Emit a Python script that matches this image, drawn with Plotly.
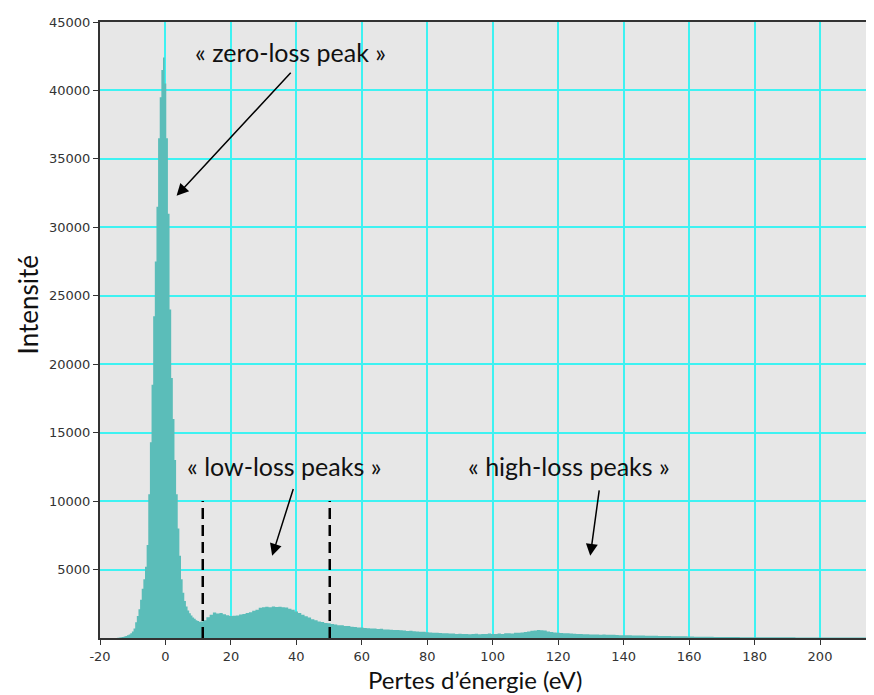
import plotly.graph_objects as go

# ---- data: energy loss (eV) and intensity (counts) ----
energy_peak = [-15.0, -14.5, -14.0, -13.5, -13.0, -12.5, -12.0, -11.5, -11.0, -10.5,
               -10.0, -9.5, -9.0, -8.5, -8.0, -7.5, -7.0, -6.5, -6.0, -5.5,
               -5.0, -4.5, -4.0, -3.5, -3.0, -2.5, -2.0, -1.5, -1.0, -0.5,
               0.0, 0.5, 1.0, 1.5, 2.0, 2.5, 3.0, 3.5, 4.0, 4.5,
               5.0, 5.5, 6.0, 6.5, 7.0, 7.5, 8.0, 8.5, 9.0, 9.5,
               10.0, 10.5, 11.0]
intensity_peak = [0, 10, 30, 50, 80, 110, 150, 200, 260, 350,
                  480, 700, 1150, 1600, 2100, 2800, 3600, 4300, 5200, 6800,
                  10500, 14300, 18500, 23500, 27500, 31500, 36500, 39500, 41500, 42400,
                  40500, 36500, 31000, 24000, 19000, 16000, 13000, 10500, 8000, 6000,
                  4300, 3300, 2700, 2300, 2000, 1800, 1650, 1500, 1400, 1300,
                  1250, 1190, 1210]

energy_tail = list(range(12, 218))
intensity_tail = [
    # 12-21
    1300, 1520, 1700, 1860, 1790, 1830, 1740, 1660, 1600, 1630,
    # 22-31
    1650, 1710, 1750, 1830, 1890, 1990, 2070, 2210, 2240, 2290,
    # 32-41
    2250, 2310, 2260, 2290, 2240, 2230, 2140, 2060, 1940, 1830,
    # 42-51
    1700, 1590, 1490, 1370, 1290, 1200, 1160, 1090, 1070, 1020,
    # 52-61
    990, 940, 930, 880, 870, 820, 810, 770, 760, 730,
    # 62-71
    720, 690, 700, 660, 670, 630, 620, 600, 590, 580,
    # 72-81
    560, 550, 520, 530, 490, 480, 460, 450, 420, 410,
    # 82-91
    390, 380, 360, 350, 340, 320, 330, 300, 310, 290,
    # 92-101
    300, 280, 290, 310, 280, 290, 300, 320, 290, 300,
    # 102-111
    320, 300, 340, 350, 330, 380, 390, 410, 440, 480,
    # 112-121
    530, 550, 590, 560, 540, 480, 440, 410, 380, 370,
    # 122-131
    350, 340, 330, 310, 300, 290, 280, 270, 260, 260,
    # 132-141
    250, 240, 250, 230, 240, 230, 220, 210, 210, 200,
    # 142-151
    200, 190, 190, 180, 180, 170, 170, 160, 160, 150,
    # 152-161
    150, 140, 140, 130, 130, 120, 120, 120, 110, 110,
    # 162-171
    100, 100, 100, 90, 90, 90, 80, 80, 80, 80,
    # 172-181
    70, 70, 70, 70, 60, 60, 60, 60, 60, 60,
    # 182-191
    60, 50, 50, 50, 50, 50, 50, 50, 50, 50,
    # 192-201
    50, 40, 40, 40, 40, 40, 40, 40, 40, 40,
    # 202-211
    40, 40, 40, 40, 40, 40, 40, 40, 40, 40,
    # 212-217
    40, 40, 40, 40, 40, 40,
]

x_ticks = [-20, 0, 20, 40, 60, 80, 100, 120, 140, 160, 180, 200]
x_ticktext = ["-20", "0", "20", "40", "60", "80", "100", "120", "140", "160", "180", "200"]
y_ticks = [5000, 10000, 15000, 20000, 25000, 30000, 35000, 40000, 45000]
y_ticktext = ["5000", "10000", "15000", "20000", "25000", "30000", "35000", "40000", "45000"]
region_bounds = [11.4, 50.2]
region_height = 10000

labels = ["« zero-loss peak »", "« low-loss peaks »", "« high-loss peaks »"]
label_pos = [(38.2, 42800), (36.3, 12550), (123.4, 12550)]
arrow_tail = [(38.7, 41400), (39.2, 11000), (132.6, 10900)]
arrow_head = [(3.4, 32300), (32.6, 6000), (129.8, 6000)]

energy = energy_peak + energy_tail
intensity = intensity_peak + intensity_tail

fig = go.Figure()
fig.add_trace(go.Scatter(
    x=energy, y=intensity, mode="lines", fill="tozeroy",
    line=dict(color="#5bbdb9", width=0, shape="hvh"),
    fillcolor="#5bbdb9", showlegend=False, hoverinfo="skip"))

for xb in region_bounds:
    fig.add_shape(type="line", xref="x", yref="y", x0=xb, x1=xb, y0=0, y1=region_height,
                  line=dict(color="black", width=2.5, dash="11px,6px"))

for txt, (tx, ty) in zip(labels, label_pos):
    fig.add_annotation(x=tx, y=ty, xref="x", yref="y", text=txt, showarrow=False,
                       font=dict(family="Lato", size=25, color="#111111"))

for (ax_, ay_), (hx, hy) in zip(arrow_tail, arrow_head):
    fig.add_annotation(x=hx, y=hy, ax=ax_, ay=ay_, xref="x", yref="y",
                       axref="x", ayref="y", text="", showarrow=True,
                       arrowhead=2, arrowsize=1.6, arrowwidth=1.5, arrowcolor="black")

fig.add_annotation(x=-0.093, y=0.54, xref="paper", yref="paper", text="Intensité",
                   textangle=-90, showarrow=False, xanchor="center", yanchor="middle",
                   font=dict(family="Lato", size=26, color="#111111"))
fig.add_annotation(x=0.485, y=-0.068, xref="paper", yref="paper",
                   text="Pertes d’énergie (eV)", showarrow=False,
                   xanchor="center", yanchor="middle",
                   font=dict(family="Lato", size=24, color="#111111"))

# page body has an 8px margin: offset the figure so the plot lands where the reference has it
fig.update_layout(
    width=866, height=687,
    margin=dict(l=92, r=0, t=14, b=57),
    paper_bgcolor="white", plot_bgcolor="#e7e7e7",
    font=dict(family="DejaVu Sans", size=13, color="#333333"),
)
fig.update_xaxes(range=[-20, 216.5], tickvals=x_ticks, ticktext=x_ticktext, showgrid=True,
                 gridcolor="#3ef2f2", gridwidth=2, zeroline=False,
                 showline=True, linecolor="#333333", linewidth=2, mirror=True,
                 ticks="outside", ticklen=5, tickcolor="#333333",
                 tickfont=dict(family="DejaVu Sans", size=13, color="#333333"))
fig.update_yaxes(range=[0, 45000], tickvals=y_ticks, ticktext=y_ticktext, showgrid=True,
                 gridcolor="#3ef2f2", gridwidth=2, zeroline=False,
                 showline=True, linecolor="#333333", linewidth=2,
                 ticks="outside", ticklen=5, tickcolor="#333333",
                 tickfont=dict(family="DejaVu Sans", size=13, color="#333333"))

fig.write_html("out.html")
